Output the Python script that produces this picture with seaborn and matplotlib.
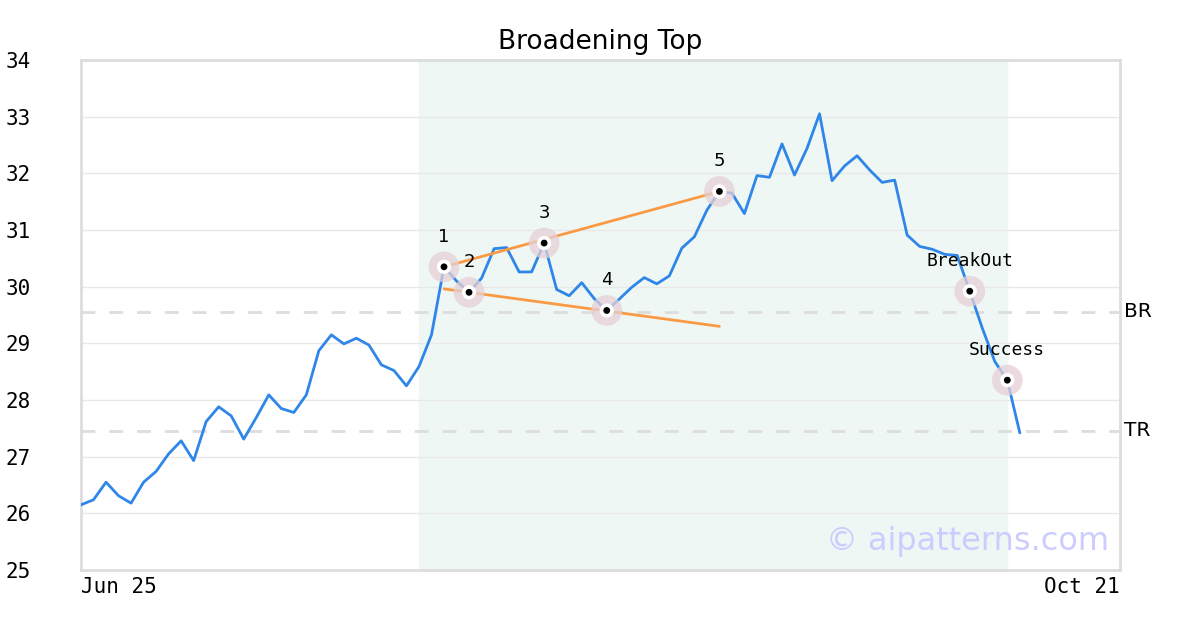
import numpy as np
import pandas as pd
import matplotlib
matplotlib.use("Agg")
import matplotlib.pyplot as plt
import seaborn as sns

# valori (indice = giorno di borsa dal 25 giugno)
prezzi = [26.15, 26.24, 26.55, 26.31, 26.18, 26.55, 26.74, 27.05, 27.28, 26.93,
          27.62, 27.88, 27.72, 27.31, 27.69, 28.09, 27.85, 27.78, 28.09, 28.87,
          29.15, 28.99, 29.09, 28.97, 28.62, 28.52, 28.25, 28.59, 29.15, 30.35,
          30.10, 29.90, 30.15, 30.67, 30.69, 30.26, 30.26, 30.77, 29.95, 29.84,
          30.07, 29.79, 29.58, 29.78, 29.99, 30.16, 30.05, 30.19, 30.68, 30.88,
          31.35, 31.68, 31.65, 31.29, 31.96, 31.93, 32.52, 31.97, 32.44, 33.05,
          31.87, 32.13, 32.31, 32.06, 31.84, 31.88, 30.91, 30.71, 30.66, 30.57,
          30.55, 29.92, 29.27, 28.68, 28.35, 27.42]
giorni = list(range(len(prezzi)))
ultimo_giorno = 83
etichette_x = ["Jun 25", "Oct 21"]

zona_inizio, zona_fine = 27, 74
punti_idx = [29, 31, 37, 42, 51, 71, 74]
punti_lab = ["1", "2", "3", "4", "5", "BreakOut", "Success"]

linea_alta_x = [29, 51]
linea_alta_y = [30.35, 31.68]
linea_bassa_x = [29, 51]
linea_bassa_y = [29.96, 29.30]

livello_br = 29.56
livello_tr = 27.46

df = pd.DataFrame({"giorno": giorni, "prezzo": prezzi})
punti = pd.DataFrame({"giorno": punti_idx,
                      "prezzo": [prezzi[i] for i in punti_idx],
                      "label": punti_lab})

sns.set_style("white")
plt.rcParams["font.family"] = ["DejaVu Sans"]
plt.rcParams["text.color"] = "black"

fig = plt.figure(figsize=(12, 6.3), dpi=100)
ax = fig.add_axes([0.0675, 0.0952, 0.8658, 0.8096])

ax.axvspan(zona_inizio, zona_fine, color="#eff7f4", zorder=0)
for y in range(26, 34):
    ax.axhline(y, color="#e8e8e8", lw=1, zorder=1)
for liv in [livello_br, livello_tr]:
    ax.axhline(liv, color="#dddddd", lw=2, ls=(0, (5, 5)), zorder=1)

sns.lineplot(data=df, x="giorno", y="prezzo", ax=ax, color="#2e86e8", lw=2, zorder=3)
sns.lineplot(x=linea_alta_x, y=linea_alta_y, ax=ax, color="#fb9a45", lw=2, zorder=4)
sns.lineplot(x=linea_bassa_x, y=linea_bassa_y, ax=ax, color="#fb9a45", lw=2, zorder=4)

sns.scatterplot(data=punti, x="giorno", y="prezzo", ax=ax, s=490, color="#e5d0d6",
                alpha=0.75, edgecolor="none", zorder=5, legend=False)
sns.scatterplot(data=punti, x="giorno", y="prezzo", ax=ax, s=105, color="white",
                edgecolor="none", zorder=6, legend=False)
sns.scatterplot(data=punti, x="giorno", y="prezzo", ax=ax, s=24, color="black",
                edgecolor="none", zorder=7, legend=False)

for _, r in punti.iterrows():
    fam = "DejaVu Sans" if r["label"].isdigit() else "DejaVu Sans Mono"
    ax.annotate(r["label"], (r["giorno"], r["prezzo"]), xytext=(0, 21.6),
                textcoords="offset points", ha="center", va="center",
                fontsize=13, family=fam, zorder=8)

ax.set_xlim(0, ultimo_giorno)
ax.set_ylim(25, 34)
ax.set_yticks(range(25, 35))
ax.set_yticklabels([str(v) for v in range(25, 35)], family="DejaVu Sans Mono",
                   fontsize=15, color="black")
ax.tick_params(axis="y", length=0, pad=36)
ax.set_xticks([0, ultimo_giorno])
ax.set_xticklabels(etichette_x, family="DejaVu Sans Mono", fontsize=15, color="black")
ax.get_xticklabels()[0].set_ha("left")
ax.get_xticklabels()[1].set_ha("right")
ax.tick_params(axis="x", length=0, pad=5)
ax.set_xlabel("")
ax.set_ylabel("")
for s in ax.spines.values():
    s.set_color("#dddddd")
    s.set_linewidth(2)

ax.text(1.004, (livello_br - 25) / 9, "BR", transform=ax.transAxes, va="center",
        ha="left", fontsize=14.5)
ax.text(1.004, (livello_tr - 25) / 9, "TR", transform=ax.transAxes, va="center",
        ha="left", fontsize=14.5)
ax.text(0.99, 0.055, "© aipatterns.com", transform=ax.transAxes, ha="right",
        va="center", fontsize=23, color="#ccccff", zorder=2)
ax.set_title("Broadening Top", fontsize=19, pad=8, color="black")

fig.savefig("out.png", dpi=100)
